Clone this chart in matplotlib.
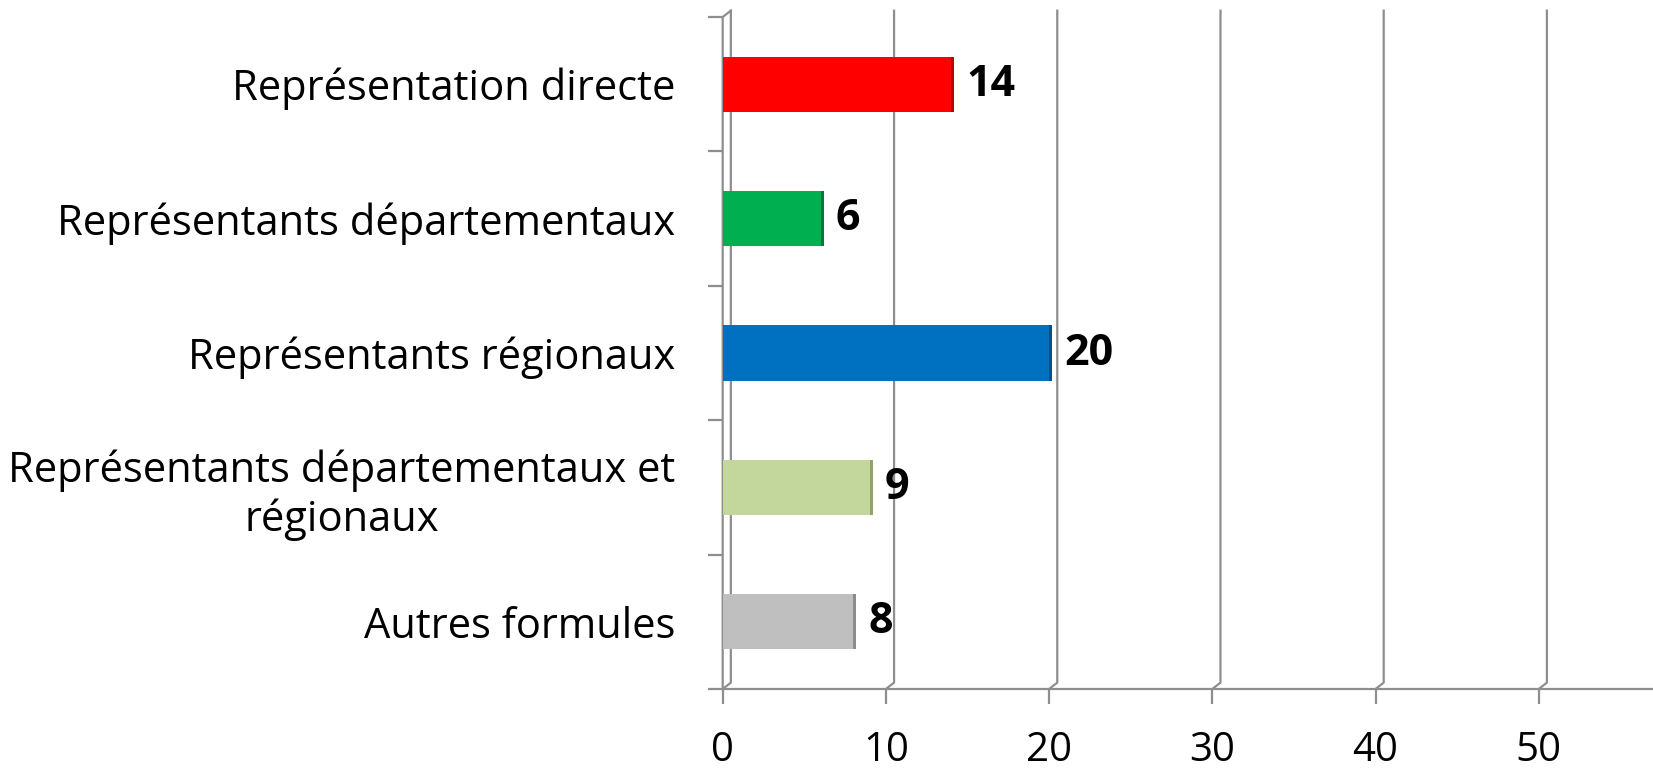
import matplotlib.pyplot as plt
import matplotlib.transforms as mtransforms

plt.rcParams['font.family'] = ['Open Sans', 'DejaVu Sans']

categories = ["Représentation directe",
              "Représentants départementaux",
              "Représentants régionaux",
              "Représentants départementaux et\nrégionaux",
              "Autres formules"]
values = [14, 6, 20, 9, 8]
colors = ["#FF0000", "#00B050", "#0070C0", "#C3D69B", "#BFBFBF"]
side_colors = ["#B80000", "#007A3A", "#004F88", "#8FA36A", "#8C8C8C"]
xticks = [0, 10, 20, 30, 40, 50]

grid_col = "#8E8E8E"
depth_x = 0.5      # 3d depth in data units
depth_y = 0.0095   # 3d depth in axes fraction

fig = plt.figure(figsize=(16.53, 7.70), dpi=100)
ax = fig.add_axes([0.4372, 0.1052, 0.5628, 0.8727])
ax.set_xlim(0, 57)
ax.set_ylim(len(categories) - 0.5, -0.5)

pos = list(range(len(categories)))
ax.barh(pos, values, height=0.41, color=colors, zorder=3)
# thin side face to mimic the 3d look
ax.barh(pos, [0.18] * len(values), left=values, height=0.41,
        color=side_colors, zorder=3)

for y, v in zip(pos, values):
    ax.annotate(str(v), (v, y), xytext=(11, 0), textcoords='offset points',
                ha='left', va='center', fontsize=31, fontweight='bold',
                zorder=4)

# back wall grid lines with the little 3d kink at the floor
blend = mtransforms.blended_transform_factory(ax.transData, ax.transAxes)
for v in xticks:
    ax.plot([v, v + depth_x, v + depth_x], [0, depth_y, 1 + depth_y],
            color=grid_col, lw=1.6, transform=blend, clip_on=False, zorder=1)
# left side wall
ax.plot([0, 0, depth_x], [0, 1, 1 + depth_y], color=grid_col, lw=1.6,
        transform=blend, clip_on=False, zorder=2)

for s in ax.spines.values():
    s.set_visible(False)
ax.axhline(len(categories) - 0.5, color=grid_col, lw=1.6, clip_on=False, zorder=2)

ax.set_xticks(xticks)
ax.set_xticklabels([str(t) for t in xticks])
ax.tick_params(axis='x', length=11, width=1.6, color=grid_col, pad=19,
               labelsize=29)

ax.set_yticks(pos)
ax.set_yticklabels(categories, multialignment='center')
ax.set_yticks([p - 0.5 for p in pos] + [len(pos) - 0.5], minor=True)
ax.tick_params(axis='y', which='major', length=0, pad=34, labelsize=30)
ax.tick_params(axis='y', which='minor', length=10.5, width=1.6, color=grid_col)

fig.savefig("out.png", dpi=100)
